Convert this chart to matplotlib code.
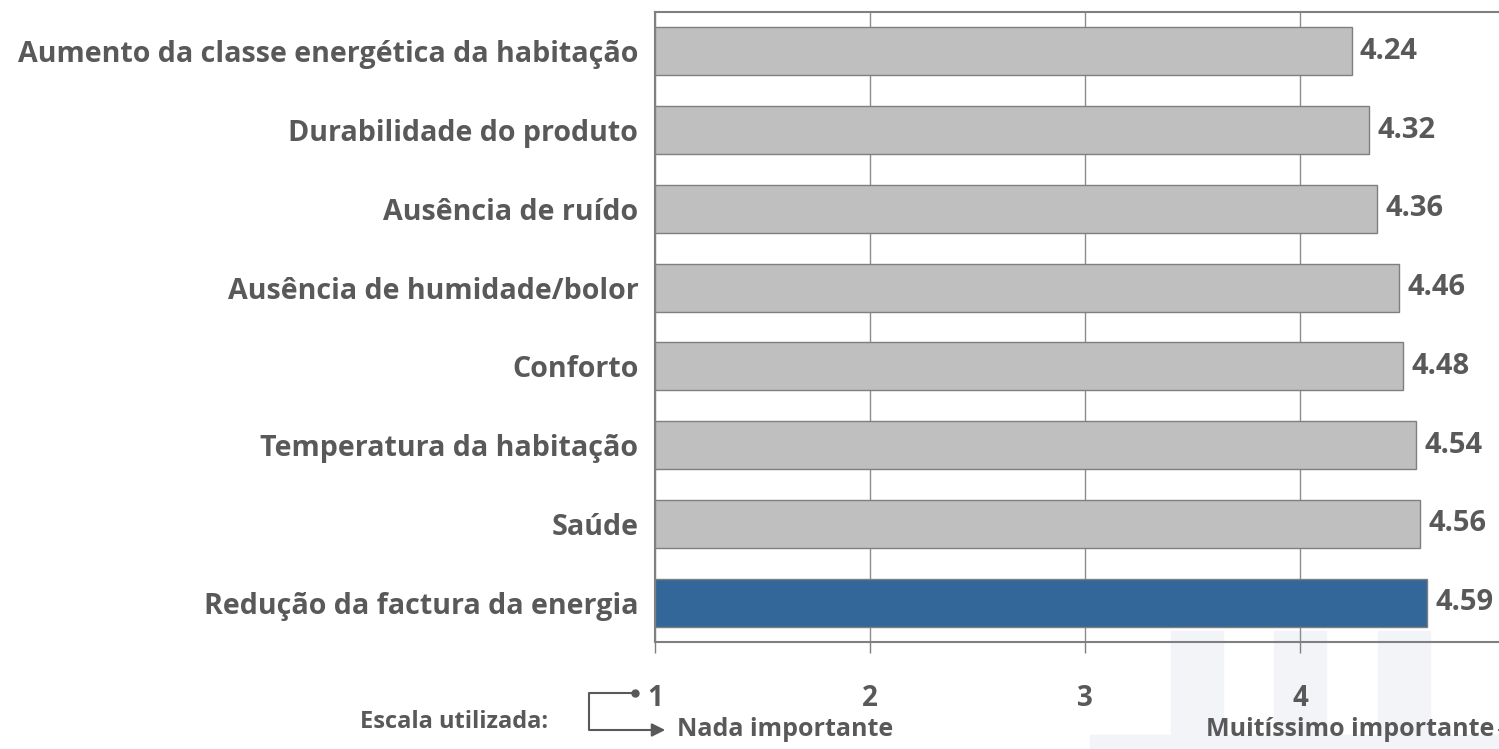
import matplotlib
matplotlib.use("Agg")
import matplotlib.pyplot as plt
from matplotlib.patches import Rectangle, FancyArrowPatch
from matplotlib.lines import Line2D

plt.rcParams['font.family'] = ['Open Sans', 'DejaVu Sans']
plt.rcParams['font.weight'] = 'bold'

categories = [
    "Aumento da classe energética da habitação",
    "Durabilidade do produto",
    "Ausência de ruído",
    "Ausência de humidade/bolor",
    "Conforto",
    "Temperatura da habitação",
    "Saúde",
    "Redução da factura da energia",
]
values = [4.24, 4.32, 4.36, 4.46, 4.48, 4.54, 4.56, 4.59]
colors = ["#bfbfbf"] * 7 + ["#336699"]
ticks = [1, 2, 3, 4]
scale_low = "Nada importante"
scale_high = "Muitíssimo importante"
scale_title = "Escala utilizada:"

TXT = "#595959"
W, H = 1499, 749

fig = plt.figure(figsize=(14.99, 7.49), dpi=100)

# faint logo watermark in the lower right corner (kept under the axes)
for x0 in (1171, 1274, 1378):
    fig.patches.append(Rectangle((x0 / W, 0), 52 / W, (749 - 631) / H,
                                 transform=fig.transFigure, color="#f3f4f8",
                                 zorder=-5))
fig.patches.append(Rectangle((1090 / W, 0), 409 / W, 14 / H,
                             transform=fig.transFigure, color="#f3f4f8",
                             zorder=-5))

ax = fig.add_axes([655 / W, 107 / H, 860 / W, 630 / H])
ax.set_zorder(2)
ax.patch.set_alpha(0)

ypos = list(range(len(categories)))
ax.barh(ypos, [v - 1 for v in values], left=1, height=0.61,
        color=colors, edgecolor="#7f7f7f", linewidth=1, zorder=3)

for y, v in zip(ypos, values):
    ax.annotate(f"{v:.2f}", (v, y), xytext=(6, 0), textcoords="offset points",
                va="center", ha="left", fontsize=21, color=TXT,
                fontweight="bold")

ax.set_xlim(1, 5)
ax.set_ylim(len(categories) - 0.5, -0.5)
ax.set_yticks(ypos)
ax.set_yticklabels(categories, fontsize=20.6, color=TXT, fontweight="bold")
ax.set_xticks(ticks + [5])
ax.set_xticklabels([str(t) for t in ticks] + [""], fontsize=20, color=TXT,
                   fontweight="bold")
ax.tick_params(axis="y", length=0, pad=12)
ax.tick_params(axis="x", direction="out", length=8, width=1,
               color="#7f7f7f", pad=22)
ax.grid(axis="x", color="#8c8c8c", linewidth=1, zorder=0)
ax.set_axisbelow(True)
for side in ("left", "top", "bottom", "right"):
    ax.spines[side].set_color("#7f7f7f")
    ax.spines[side].set_linewidth(1.5)

# scale legend under the axis
fig.text(548 / W, 1 - 722 / H, scale_title, ha="right", va="center",
         fontsize=17, color=TXT, fontweight="bold")
fig.lines.append(Line2D([635 / W, 589 / W, 589 / W, 660 / W],
                        [1 - 693 / H, 1 - 693 / H, 1 - 730 / H, 1 - 730 / H],
                        transform=fig.transFigure, color=TXT, lw=1.5))
fig.lines.append(Line2D([635 / W], [1 - 693 / H], transform=fig.transFigure,
                        marker="o", markersize=5, color=TXT))
fig.patches.append(FancyArrowPatch((655 / W, 1 - 730 / H), (668 / W, 1 - 730 / H),
                                   transform=fig.transFigure,
                                   arrowstyle="-|>,head_length=8,head_width=4",
                                   color=TXT, lw=1.5, mutation_scale=1))
fig.text(677 / W, 1 - 729 / H, scale_low, ha="left", va="center",
         fontsize=18, color=TXT, fontweight="bold")
fig.text(1206 / W, 1 - 729 / H, scale_high, ha="left", va="center",
         fontsize=18, color=TXT, fontweight="bold")
fig.patches.append(FancyArrowPatch((1540 / W, 1 - 730 / H), (1494 / W, 1 - 730 / H),
                                   transform=fig.transFigure,
                                   arrowstyle="-|>,head_length=8,head_width=4",
                                   color=TXT, lw=1.5, mutation_scale=1))

fig.savefig("out.png", dpi=100)
